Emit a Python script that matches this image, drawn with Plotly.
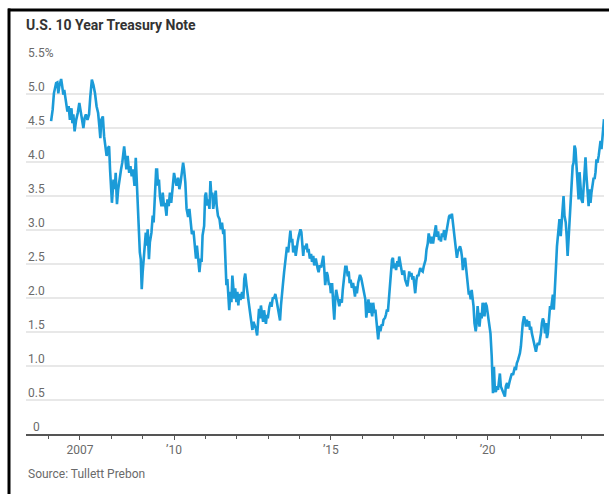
import plotly.graph_objects as go

# decimal-year positions and 10-year yields (%)
years = [
2006.08,2006.13,2006.17,2006.24,2006.28,2006.31,2006.34,2006.40,2006.43,2006.47,2006.50,2006.56,2006.60,2006.64,2006.68,2006.73,2006.76,2006.79,2006.83,2006.88,2006.93,2006.98,
2007.02,2007.07,2007.11,2007.15,2007.19,2007.24,2007.29,2007.33,2007.38,2007.43,2007.48,2007.53,2007.58,2007.62,2007.65,2007.68,2007.73,2007.77,2007.81,2007.85,2007.90,2007.93,2007.96,2007.99,
2008.02,2008.07,2008.11,2008.14,2008.18,2008.22,2008.27,2008.31,2008.35,2008.41,2008.44,2008.48,2008.52,2008.57,2008.61,2008.65,2008.69,2008.74,2008.78,2008.81,2008.84,2008.87,2008.91,2008.94,2008.97,
2009.00,2009.03,2009.06,2009.10,2009.13,2009.16,2009.20,2009.23,2009.28,2009.32,2009.35,2009.39,2009.43,2009.46,2009.49,2009.52,2009.55,2009.60,2009.64,2009.68,2009.71,2009.76,2009.79,2009.83,2009.87,2009.91,2009.96,
2010.00,2010.04,2010.08,2010.13,2010.17,2010.21,2010.25,2010.29,2010.32,2010.36,
2010.40,2010.45,2010.49,2010.53,2010.57,2010.62,2010.66,2010.70,2010.73,2010.78,2010.81,2010.85,2010.88,2010.91,2010.96,2010.99,
2011.02,2011.06,2011.09,2011.13,2011.16,2011.19,2011.22,2011.25,2011.30,2011.33,2011.36,2011.40,2011.45,2011.49,2011.53,2011.57,2011.60,2011.64,2011.67,2011.70,2011.73,2011.76,2011.80,2011.83,2011.86,2011.89,2011.92,2011.95,2011.99,
2012.02,2012.05,2012.08,2012.12,2012.17,2012.21,2012.24,2012.27,2012.31,2012.34,2012.38,2012.42,2012.46,2012.50,2012.53,2012.57,2012.61,2012.65,2012.68,2012.71,2012.74,2012.77,2012.81,2012.84,2012.87,2012.90,2012.93,2012.96,2012.99,
2013.04,2013.08,2013.11,2013.15,2013.19,2013.23,2013.26,2013.29,2013.34,2013.38,2013.41,2013.44,2013.47,2013.51,2013.54,2013.57,2013.60,2013.64,2013.68,2013.71,2013.74,2013.77,2013.80,2013.85,2013.88,2013.91,2013.94,2013.98,
2014.03,2014.06,2014.09,2014.12,2014.15,2014.19,2014.23,2014.26,2014.29,2014.33,2014.37,2014.40,2014.44,2014.47,2014.52,2014.55,2014.58,2014.61,2014.65,2014.69,2014.73,2014.76,2014.79,2014.82,2014.87,2014.90,2014.94,2014.97,
2015.00,2015.04,2015.08,2015.11,2015.14,2015.17,2015.21,2015.24,2015.27,2015.31,2015.35,2015.38,2015.42,2015.46,2015.50,2015.54,2015.57,2015.60,2015.63,2015.67,2015.71,2015.74,2015.77,2015.80,2015.83,2015.87,2015.90,2015.93,2015.97,
2016.00,2016.04,2016.07,2016.10,2016.13,2016.16,2016.20,2016.23,2016.26,2016.29,2016.32,2016.35,2016.39,2016.42,2016.45,2016.48,2016.51,2016.55,2016.58,2016.62,2016.65,2016.68,2016.73,2016.76,2016.79,2016.82,2016.85,2016.89,2016.92,2016.95,2016.98,
2017.01,2017.05,2017.08,2017.12,2017.15,2017.18,2017.22,2017.25,2017.28,2017.31,2017.34,2017.37,2017.41,2017.44,2017.47,2017.50,2017.53,2017.57,2017.60,2017.63,2017.66,2017.69,2017.73,2017.76,2017.79,2017.82,2017.85,2017.88,2017.93,2017.96,2017.99,
2018.02,2018.05,2018.09,2018.12,2018.16,2018.19,2018.22,2018.26,2018.29,2018.32,2018.35,2018.38,2018.42,2018.45,2018.48,2018.51,2018.54,2018.58,2018.61,2018.64,2018.67,2018.70,2018.73,2018.77,2018.80,2018.83,2018.86,2018.89,2018.93,2018.96,2018.99,
2019.02,2019.05,2019.09,2019.12,2019.15,2019.18,2019.21,2019.24,2019.28,2019.31,2019.34,2019.37,2019.40,2019.42,2019.46,2019.49,2019.52,2019.55,2019.58,2019.62,2019.65,2019.68,2019.71,2019.74,2019.78,2019.81,2019.84,2019.87,2019.90,2019.93,2019.97,
2020.00,2020.03,2020.06,2020.09,2020.13,2020.15,2020.17,2020.20,2020.23,2020.26,2020.30,2020.33,2020.36,2020.39,2020.42,2020.46,2020.49,2020.52,2020.55,2020.58,2020.62,2020.65,2020.68,2020.71,2020.74,2020.77,2020.81,2020.84,2020.87,2020.90,2020.93,2020.97,
2021.00,2021.03,2021.06,2021.09,2021.12,2021.16,2021.19,2021.22,2021.25,2021.28,2021.32,2021.35,2021.38,2021.41,2021.44,2021.48,2021.51,2021.54,2021.57,2021.60,2021.64,2021.67,2021.70,2021.73,2021.76,2021.79,2021.83,2021.86,2021.89,2021.92,2021.95,2021.99,
2022.02,2022.05,2022.08,2022.11,2022.14,2022.18,2022.21,2022.24,2022.27,2022.29,2022.33,2022.36,2022.39,2022.42,2022.45,2022.49,2022.52,2022.55,2022.58,2022.61,2022.64,2022.68,2022.71,2022.74,2022.77,2022.80,2022.84,2022.87,2022.90,2022.93,2022.96,2022.99,
2023.03,2023.06,2023.09,2023.12,2023.15,2023.19,2023.22,2023.25,2023.28,2023.31,2023.35,2023.38,2023.41,2023.44,2023.47,2023.50,2023.54,2023.57,2023.60,2023.63,2023.66,2023.69,2023.71,
]

yields = [
4.60,4.77,5.01,5.16,5.17,5.01,5.11,5.22,5.13,4.99,5.06,4.87,4.74,4.82,4.62,4.79,4.57,4.70,4.45,4.62,4.72,4.87,
4.77,4.65,4.50,4.65,4.70,4.62,4.70,4.96,5.21,5.13,5.01,4.82,4.72,4.52,4.35,4.62,4.67,4.38,4.23,4.09,4.21,4.23,3.89,3.70,
3.40,3.74,3.60,3.84,3.38,3.60,3.79,3.89,3.99,4.23,4.09,3.89,4.09,3.84,3.94,3.79,3.89,3.65,4.06,3.74,3.35,3.06,2.67,2.57,2.13,
2.38,2.57,2.72,2.96,2.77,3.01,2.57,2.82,2.96,3.21,3.11,3.45,3.89,3.89,3.65,3.74,3.50,3.35,3.55,3.35,3.40,3.21,3.45,3.35,3.55,3.40,3.70,
3.84,3.74,3.65,3.77,3.60,3.70,3.82,3.99,3.89,3.70,
3.31,3.19,3.31,3.06,2.94,2.99,2.77,2.58,2.77,2.53,2.38,2.58,2.53,2.92,3.06,3.50,
3.55,3.36,3.45,3.31,3.72,3.50,3.55,3.31,3.45,3.58,3.36,3.21,3.16,3.01,3.11,2.94,3.01,2.62,2.19,2.28,2.09,1.82,2.09,1.94,2.33,2.09,1.99,2.14,1.94,
2.09,1.89,2.06,1.97,2.09,1.99,2.28,2.36,2.19,2.04,1.94,1.80,1.65,1.53,1.65,1.60,1.55,1.45,1.60,1.84,1.70,1.89,1.75,1.65,1.82,1.70,1.62,1.75,1.70,
1.87,1.94,1.87,2.01,1.99,2.06,1.99,1.89,1.75,1.67,1.89,2.09,2.19,2.38,2.53,2.62,2.75,2.67,2.89,2.99,2.82,2.87,2.67,2.77,2.62,2.75,2.82,2.92,
3.01,2.97,2.82,2.62,2.77,2.72,2.80,2.67,2.72,2.58,2.65,2.53,2.62,2.48,2.58,2.48,2.43,2.38,2.48,2.45,2.58,2.62,2.43,2.19,2.38,2.33,2.19,2.22,
2.07,2.22,1.88,1.68,1.98,2.12,2.02,1.93,1.88,1.98,1.93,2.12,2.29,2.46,2.46,2.32,2.39,2.22,2.27,2.15,2.22,2.12,2.02,2.17,2.07,2.22,2.32,2.34,2.29,
2.22,2.17,2.07,1.98,1.71,1.83,1.98,1.78,1.93,1.80,1.73,1.93,1.78,1.83,1.68,1.61,1.39,1.59,1.51,1.61,1.59,1.68,1.71,1.76,1.83,1.80,1.98,2.22,2.46,2.56,2.59,
2.44,2.51,2.41,2.54,2.46,2.61,2.49,2.39,2.34,2.39,2.39,2.27,2.22,2.17,2.27,2.39,2.32,2.37,2.27,2.32,2.20,2.07,2.27,2.34,2.32,2.39,2.44,2.41,2.39,2.46,2.51,
2.56,2.71,2.80,2.95,2.88,2.80,2.90,2.80,2.90,3.02,3.07,2.90,2.98,2.85,2.90,2.83,2.95,2.90,3.00,2.85,2.93,3.05,3.10,3.20,3.22,3.17,3.24,3.10,2.98,2.80,2.71,
2.59,2.68,2.73,2.76,2.71,2.61,2.41,2.54,2.59,2.46,2.37,2.17,2.05,2.10,1.98,2.12,2.02,1.88,1.63,1.51,1.63,1.88,1.73,1.58,1.78,1.70,1.93,1.85,1.73,1.93,1.88,
1.78,1.66,1.53,1.48,1.14,0.84,0.60,0.99,0.65,0.62,0.70,0.65,0.75,0.89,0.70,0.65,0.62,0.57,0.55,0.70,0.75,0.67,0.75,0.79,0.84,0.89,0.87,0.94,0.99,0.94,1.04,1.09,
1.14,1.19,1.29,1.48,1.63,1.73,1.68,1.58,1.68,1.58,1.66,1.53,1.58,1.48,1.41,1.34,1.29,1.21,1.29,1.34,1.31,1.38,1.48,1.63,1.70,1.66,1.48,1.63,1.41,1.48,1.68,1.88,
1.83,1.98,2.05,1.83,2.22,2.47,2.76,2.96,3.06,3.16,2.91,3.11,3.45,3.50,3.21,3.11,2.91,2.62,2.86,3.16,3.45,3.65,3.94,3.99,4.24,4.19,3.94,3.65,3.45,3.85,3.65,3.45,
3.40,3.70,3.94,4.07,3.80,3.45,3.35,3.60,3.40,3.55,3.65,3.77,3.75,3.85,4.04,3.99,4.09,4.19,4.31,4.19,4.34,4.49,4.63,
]

ytick_vals = [0, 0.5, 1.0, 1.5, 2.0, 2.5, 3.0, 3.5, 4.0, 4.5, 5.0, 5.5]
ytick_text = ["0", "0.5", "1.0", "1.5", "2.0", "2.5", "3.0", "3.5", "4.0", "4.5", "5.0", "5.5%"]
xtick_vals = [2007, 2010, 2015, 2020]
xtick_text = ["2007", "\u201910", "\u201915", "\u201920"]

title_text = "U.S. 10 Year Treasury Note"
source_text = "Source: Tullett Prebon"

FONT = "Roboto, Liberation Sans, Arial, sans-serif"
LINE = "#1b9bd8"

fig = go.Figure()
fig.add_trace(go.Scatter(x=years, y=yields, mode="lines",
                         line=dict(color=LINE, width=2.6), hoverinfo="skip"))

annotations = []
for v, t in zip(ytick_vals, ytick_text):
    annotations.append(dict(x=0, xref="paper", y=v, yref="y", text=t,
                            xanchor="left", yanchor="bottom", showarrow=False,
                            xshift=5 if t == "0" else 0, yshift=-2,
                            font=dict(family=FONT, size=12, color="#6a6a6a")))
annotations.append(dict(x=0, xref="paper", y=-0.106, yref="paper", text=source_text,
                        xanchor="left", yanchor="middle", showarrow=False,
                        font=dict(family=FONT, size=12, color="#6a6a6a")))

fig.update_layout(
    width=609, height=494,
    margin=dict(l=26, r=5, t=60, b=60),
    paper_bgcolor="white", plot_bgcolor="white",
    showlegend=False,
    title=dict(text="<b>" + title_text + "</b>", x=26 / 609, xanchor="left",
               xref="container", y=1 - 25 / 494, yanchor="middle", yref="container",
               font=dict(family=FONT, size=14, color="#333")),
    xaxis=dict(range=[2005.28, 2023.71], tickvals=xtick_vals, ticktext=xtick_text,
               ticks="outside", ticklen=4, tickwidth=1, tickcolor="#555",
               showline=True, linecolor="#555", linewidth=1.5,
               showgrid=False, zeroline=False,
               tickfont=dict(family=FONT, size=12, color="#6a6a6a"),
               minor=dict(dtick=1, tick0=2005, ticks="outside", ticklen=3,
                          tickcolor="#555", tickwidth=1, showgrid=False)),
    yaxis=dict(range=[0, 5.5], tickvals=ytick_vals[1:], showticklabels=False,
               showgrid=True, gridcolor="#e8e8e8", gridwidth=1.5,
               zeroline=False, showline=False, ticks=""),
    annotations=annotations,
    shapes=[
        dict(type="line", xref="paper", yref="paper", x0=-0.0311, x1=1.01,
             y0=1.1337, y1=1.1337, line=dict(color="black", width=3)),
        dict(type="line", xref="paper", yref="paper", x0=-0.0294, x1=-0.0294,
             y0=1.1377, y1=-0.17, line=dict(color="black", width=3)),
    ],
)

fig.write_html("out.html")
